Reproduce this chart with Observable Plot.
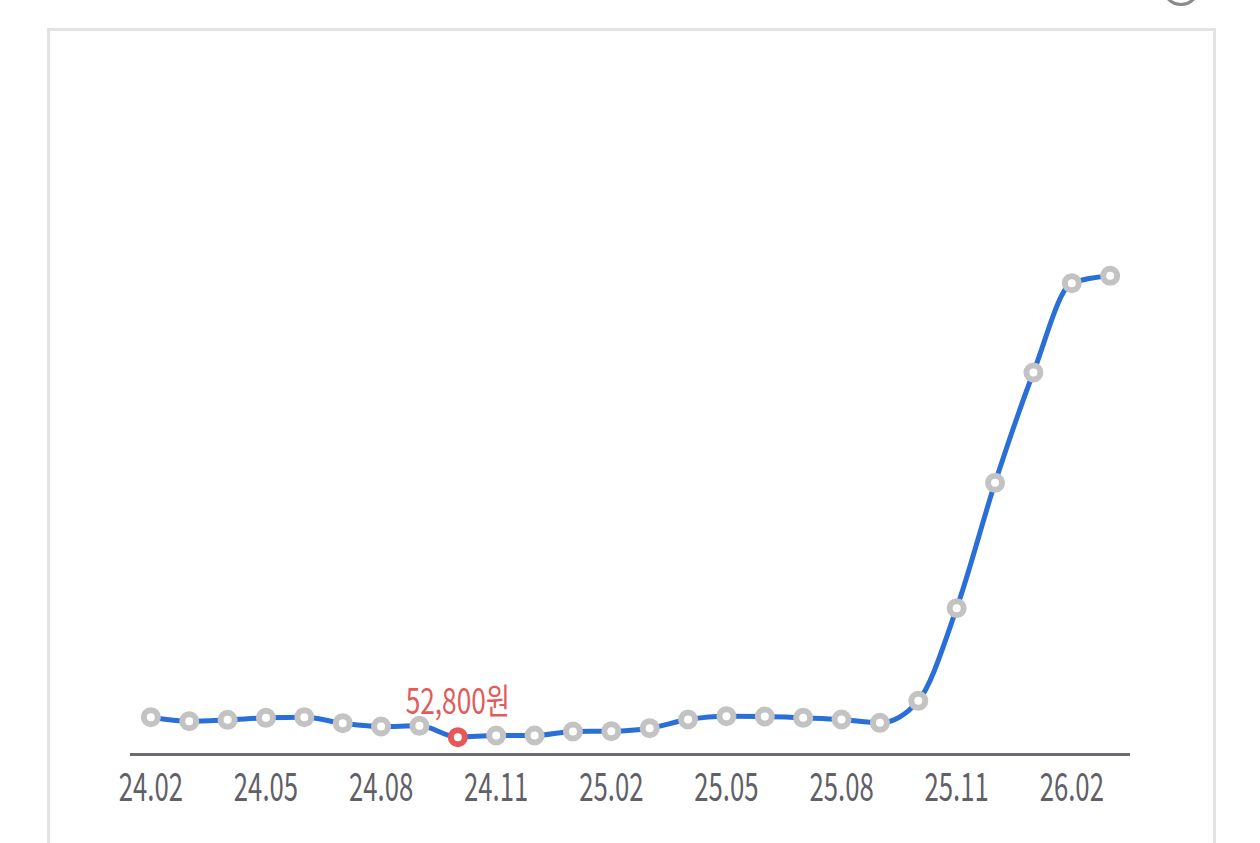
<!DOCTYPE html>
<html>
<head>
<meta charset="utf-8">
<script src="https://cdn.jsdelivr.net/npm/d3@7"></script>
<script src="https://cdn.jsdelivr.net/npm/@observablehq/plot@0.6"></script>
<style>
  html, body { margin: 0; padding: 0; background: #fff; overflow: hidden; }
  #wrap { position: relative; width: 1260px; height: 843px; }
  #frame { position: absolute; left: 47px; top: 28px; width: 1163px; height: 900px;
           border: 3px solid #e3e3e3; box-sizing: content-box; }
  #icon { position: absolute; left: 1162px; top: -32px; width: 32px; height: 32px;
          border-radius: 50%; border: 3px solid #8a8a8a; }
  #chart { position: absolute; left: 0; top: 0; }
</style>
</head>
<body>
<div id="wrap">
  <div id="frame"></div>
  <div id="icon"></div>
  <div id="chart"></div>
</div>
<script>
const months = ["24.02","24.03","24.04","24.05","24.06","24.07","24.08","24.09","24.10","24.11","24.12",
                "25.01","25.02","25.03","25.04","25.05","25.06","25.07","25.08","25.09","25.10","25.11","25.12",
                "26.01","26.02","26.03"];
const prices = [58800, 57600, 58000, 58600, 58800, 57000, 56000, 56200, 52800, 53300, 53300,
                54500, 54600, 55500, 58100, 59100, 59000, 58600, 58100, 57100, 63700, 91500, 129100,
                162200, 189000, 191200];
const tickLabels = ["24.02","24.05","24.08","24.11","25.02","25.05","25.08","25.11","26.02"];
const lowLabel = "52,800원";
const yDomain = [47600, 264800];

const data = months.map((m, i) => ({month: m, price: prices[i]}));
const minPrice = d3.min(prices);
const lowPoint = data.filter(d => d.price === minPrice);
const otherPoints = data.filter(d => d.price !== minPrice);
const FONT = "'Noto Sans CJK KR', 'Noto Sans', sans-serif";

const chart = Plot.plot({
  width: 1260,
  height: 843,
  marginLeft: 130,
  marginRight: 130,
  marginTop: 30,
  marginBottom: 89,
  style: {background: "transparent", overflow: "visible"},
  x: {type: "point", domain: months, padding: 0.53, round: false},
  y: {domain: yDomain, axis: null},
  marks: [
    Plot.ruleY([yDomain[0]], {stroke: "#6b6b70", strokeWidth: 3}),
    Plot.axisX({
      ticks: tickLabels, tickSize: 0, tickPadding: 19,
      fontSize: 39, fill: "#5f6068", fontFamily: FONT, label: null
    }),
    Plot.lineY(data, {x: "month", y: "price", curve: "monotone-x",
      stroke: "#2a6fd8", strokeWidth: 5}),
    Plot.dot(otherPoints, {x: "month", y: "price", r: 7, fill: "#fff",
      stroke: "#c3c3c3", strokeWidth: 6}),
    Plot.dot(lowPoint, {x: "month", y: "price", r: 7, fill: "#fff",
      stroke: "#e85757", strokeWidth: 6}),
    Plot.text(lowPoint, {x: "month", y: "price", text: () => lowLabel,
      dy: -23, lineAnchor: "bottom", textAnchor: "middle",
      fontSize: 35, fill: "#e35a5a", fontFamily: FONT})
  ]
});
// condense the text horizontally, like the narrow face of the original
d3.select(chart).selectAll('g[aria-label="x-axis tick label"] text').each(function() {
  const t = this.getAttribute("transform") || "";
  this.setAttribute("transform", t + " scale(0.66,1)");
});
d3.select(chart).selectAll('g[aria-label="text"] text').each(function() {
  const t = this.getAttribute("transform") || "";
  this.setAttribute("transform", t + " scale(0.75,1)");
});
document.getElementById("chart").appendChild(chart);
</script>
</body>
</html>
